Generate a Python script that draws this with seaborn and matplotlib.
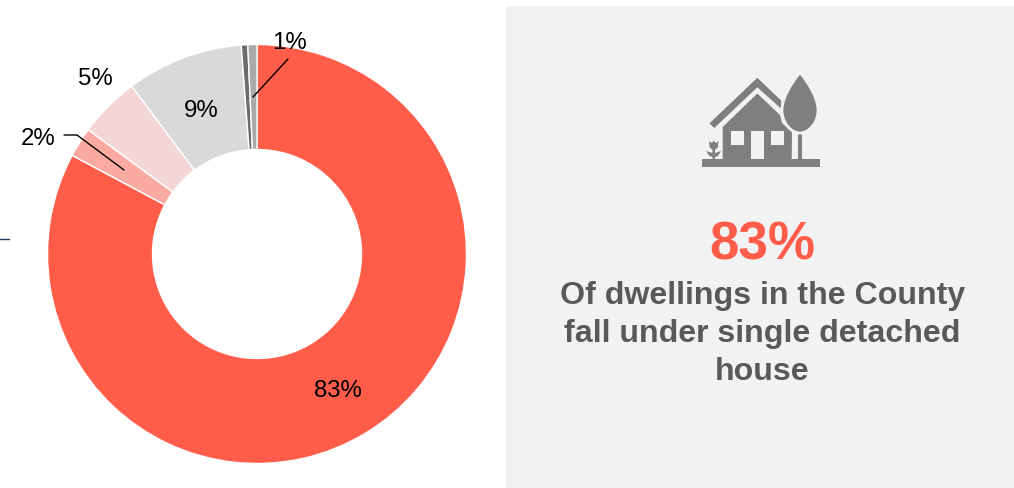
import matplotlib
matplotlib.use("Agg")
import matplotlib.pyplot as plt
import seaborn as sns
from matplotlib.patches import Polygon, Rectangle, PathPatch
from matplotlib.path import Path

categories = ["Single detached house", "Type B", "Type C", "Type D", "Type E", "Type F"]
values = [82.8, 2.3, 4.7, 9.0, 0.5, 0.7]
colors = ["#ff5d4a", "#fbaaa2", "#f4d6d6", "#d9d9d9", "#6b6b6b", "#a9a9a9"]
labels = ["83%", "2%", "5%", "9%", "", "1%"]
headline = "83%"
caption = ["Of dwellings in the County", "fall under single detached", "house"]

sns.set_theme(style="white")
plt.rcParams["font.family"] = ["Liberation Sans", "DejaVu Sans"]

W, H = 1014, 488
fig = plt.figure(figsize=(W / 100, H / 100), dpi=100, facecolor="white")
ax = fig.add_axes([0, 0, 1, 1])

def Y(y):
    return H - y

# background panel
PANEL = "#f2f2f2"
ax.add_patch(Rectangle((506, Y(488)), 508, 482, fc=PANEL, ec="none", zorder=0))

# donut
ax.pie(values, colors=sns.color_palette(colors), startangle=90, counterclock=False,
       center=(257, Y(254)), radius=209.5, frame=True,
       wedgeprops=dict(width=105, edgecolor="white", linewidth=1.0))
ax.set_aspect("auto")
ax.set_xlim(0, W)
ax.set_ylim(0, H)
ax.axis("off")

label_pos = [(338, 391), (38, 139), (95, 79), (201, 111), None, (289, 43)]
for lab, pos in zip(labels, label_pos):
    if pos:
        ax.text(pos[0], Y(pos[1]), lab, fontsize=17.3, color="black", ha="center", va="center", zorder=5)

# leader lines
ax.plot([64, 77, 124], [Y(135), Y(135), Y(170)], color="black", lw=1, zorder=5)
ax.plot([288, 253], [Y(59), Y(97)], color="black", lw=1, zorder=5)
ax.plot([0, 9], [Y(239), Y(239)], color="#1f3a5f", lw=1, zorder=5)

# house icon
G = "#7f7f7f"
def poly(points, color=G, z=3):
    ax.add_patch(Polygon([(x, Y(y)) for x, y in points], closed=True, fc=color, ec="none", zorder=z))

poly([(701.7, 159), (820, 159), (820, 167.3), (701.7, 167.3)])
poly([(709.5, 123.3), (757.3, 77.8), (781.3, 100.7), (781.3, 108.8), (757.3, 87.3), (714.3, 128)])
poly([(722.7, 159), (722.7, 127), (757.3, 93.5), (780, 115), (782, 123), (792, 132), (791.7, 159)])
poly([(730.7, 131.3), (744, 131.3), (744, 144.7), (730.7, 144.7)], PANEL, 4)
poly([(750.7, 131.3), (764, 131.3), (764, 159), (750.7, 159)], PANEL, 4)
poly([(770.7, 131.3), (784, 131.3), (784, 144.7), (770.7, 144.7)], PANEL, 4)
poly([(797.6, 128), (802.4, 128), (802.4, 159), (797.6, 159)])
tree = Path([(800, Y(72.5)), (807, Y(81)), (818, Y(97)), (818, Y(110)),
             (818, Y(124)), (808, Y(133)), (800, Y(133)),
             (792, Y(133)), (782, Y(124)), (782, Y(110)),
             (782, Y(97)), (793, Y(81)), (800, Y(72.5))],
            [Path.MOVETO] + [Path.CURVE4] * 12)
ax.add_patch(PathPatch(tree, fc=G, ec=PANEL, lw=2, zorder=4))
poly([(709, 141), (711.5, 143), (713.7, 141), (716, 143), (718.3, 141), (718, 147), (715, 150),
      (715, 153), (721, 151), (718, 156), (715, 157), (715, 159), (712.5, 159),
      (712.5, 157), (709.5, 156), (706, 151), (712.5, 153), (712.5, 150), (709.5, 147)])

# text panel
ax.text(762.5, Y(246), headline, fontsize=38.2, fontweight="bold", color="#ff5d4a", ha="center", va="center", zorder=5)
for line, y in zip(caption, [296, 334, 372]):
    ax.text(762.5, Y(y), line, fontsize=23.1, fontweight="bold", color="#595959", ha="center", va="center", zorder=5)

fig.savefig("out.png", dpi=100, facecolor="white")
